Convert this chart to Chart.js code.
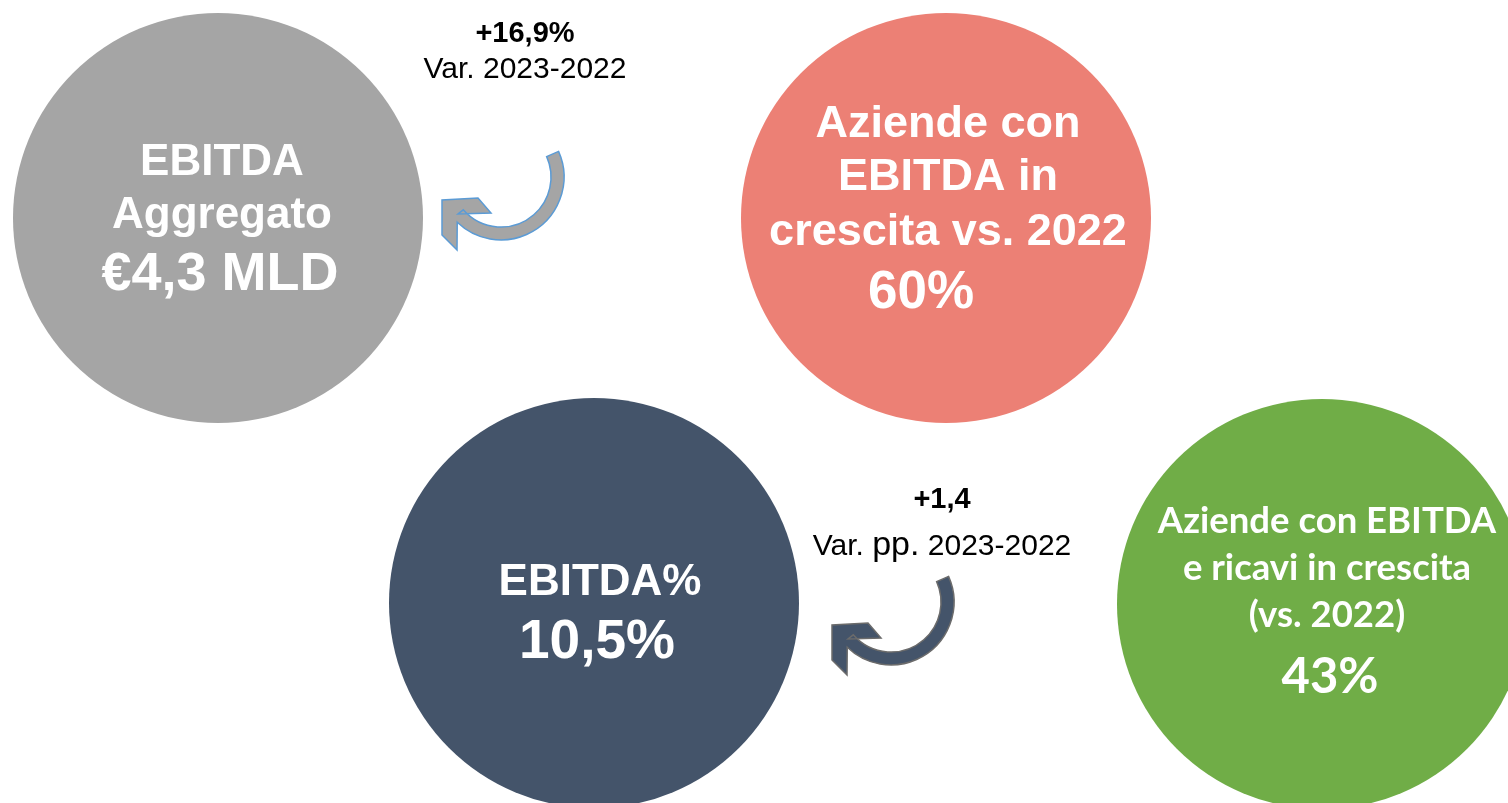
<!DOCTYPE html>
<html>
<head>
<meta charset="utf-8">
<script src="https://cdn.jsdelivr.net/npm/chart.js@4/dist/chart.umd.min.js"></script>
<style>
  html, body { margin: 0; padding: 0; background: #fff; }
  #wrap { width: 1508px; height: 803px; }
</style>
</head>
<body>
<div id="wrap"><canvas id="kpiChart" width="1508" height="803"></canvas></div>
<script>
// KPI contents
const kpiTitles = [
  ["EBITDA", "Aggregato"],
  ["Aziende con", "EBITDA in", "crescita vs. 2022"],
  ["EBITDA%"],
  ["Aziende con EBITDA", "e ricavi in crescita", "(vs. 2022)"]
];
const kpiValues = ["€4,3 MLD", "60%", "10,5%", "43%"];
const kpiColors = ["#a5a5a5", "#ec8075", "#44546a", "#70ad47"];

// variations vs. previous year
const varValues = ["+16,9%", "+1,4"];
const varLabels = [["Var. ", "2023-2022"], ["Var. ", "pp.", " 2023-2022"]];

// layout (pixel space of the canvas)
const circlePos = [[218, 218], [946, 218], [594, 603], [1322, 604]];
const circleR = 205;
const arrowPos = [[501, 177], [891, 602]];
const arrowStyle = [
  { fill: "#a5a5a5", stroke: "#5b9bd5" },
  { fill: "#44546a", stroke: "#6b6b6b" }
];

const rad = d => d * Math.PI / 180;

function drawArrow(ctx, cx, cy, st) {
  ctx.save();
  ctx.beginPath();
  ctx.arc(cx, cy, 63, rad(-24), rad(134));
  ctx.lineTo(cx - 44, cy + 73);
  ctx.lineTo(cx - 59, cy + 58);
  ctx.lineTo(cx - 59, cy + 23);
  ctx.lineTo(cx - 23, cy + 21);
  ctx.lineTo(cx - 10, cy + 36);
  ctx.lineTo(cx - 43, cy + 37);
  ctx.arc(cx, cy, 50, rad(139), rad(-24), true);
  ctx.closePath();
  ctx.fillStyle = st.fill;
  ctx.fill();
  ctx.lineWidth = 1.5;
  ctx.strokeStyle = st.stroke;
  ctx.stroke();
  ctx.restore();
}

// draw a line made of pieces with different sizes, centered on x
function drawPieces(ctx, pieces, x, y) {
  let total = 0;
  pieces.forEach(p => { ctx.font = p.font; total += ctx.measureText(p.text).width; });
  let cur = x - total / 2;
  ctx.textAlign = "left";
  pieces.forEach(p => {
    ctx.font = p.font;
    ctx.fillText(p.text, cur, y);
    cur += ctx.measureText(p.text).width;
  });
}

const labelPlugin = {
  id: "kpiLabels",
  afterDatasetsDraw(chart) {
    const ctx = chart.ctx;
    const meta = chart.getDatasetMeta(0);
    ctx.save();
    ctx.textBaseline = "alphabetic";
    ctx.fillStyle = "#ffffff";
    ctx.textAlign = "center";

    // circle texts
    const arial = "'Liberation Sans', Arial, sans-serif";
    const lato = "Lato, 'Open Sans', sans-serif";
    const specs = [
      { font: "bold 44px " + arial, vFont: "bold 54px " + arial, base: [175, 228], vBase: 290, dx: 4, vDx: 2 },
      { font: "bold 45px " + arial, vFont: "bold 53px " + arial, base: [137, 190, 245], vBase: 308, dx: 2, vDx: -25 },
      { font: "bold 44px " + arial, vFont: "bold 55px " + arial, base: [595], vBase: 658, dx: 6, vDx: 3 },
      { font: "bold 36.5px " + lato, vFont: "bold 49px " + lato, base: [533, 580, 627], vBase: 693, dx: 5, vDx: 8 }
    ];
    meta.data.forEach((el, i) => {
      const s = specs[i];
      ctx.font = s.font;
      kpiTitles[i].forEach((line, j) => {
        ctx.fillText(line, el.x + s.dx, s.base[j]);
      });
      ctx.font = s.vFont;
      ctx.fillText(kpiValues[i], el.x + s.vDx, s.vBase);
    });

    // arrows
    arrowPos.forEach((p, i) => drawArrow(ctx, p[0], p[1], arrowStyle[i]));

    // variation annotations
    ctx.fillStyle = "#000000";
    ctx.textAlign = "center";
    ctx.font = "bold 29px " + arial;
    ctx.fillText(varValues[0], 525, 42);
    ctx.fillText(varValues[1], 942, 508);
    drawPieces(ctx, [
      { text: varLabels[0][0], font: "30px " + arial },
      { text: varLabels[0][1], font: "30px " + arial }
    ], 525, 78);
    drawPieces(ctx, [
      { text: varLabels[1][0], font: "30px " + arial },
      { text: varLabels[1][1], font: "34px " + arial },
      { text: varLabels[1][2], font: "30px " + arial }
    ], 942, 555);
    ctx.restore();
  }
};

const ctx = document.getElementById("kpiChart").getContext("2d");
new Chart(ctx, {
  type: "bubble",
  data: {
    datasets: [{
      label: "KPI",
      data: circlePos.map(p => ({ x: p[0], y: p[1], r: circleR })),
      backgroundColor: kpiColors,
      borderWidth: 0,
      hoverRadius: 0,
      clip: false
    }]
  },
  options: {
    responsive: false,
    animation: false,
    events: [],
    layout: { padding: 0, autoPadding: false },
    plugins: {
      legend: { display: false },
      tooltip: { enabled: false }
    },
    scales: {
      x: { type: "linear", min: 0, max: 1508, display: false },
      y: { type: "linear", min: 0, max: 803, reverse: true, display: false }
    }
  },
  plugins: [labelPlugin]
});
</script>
</body>
</html>
